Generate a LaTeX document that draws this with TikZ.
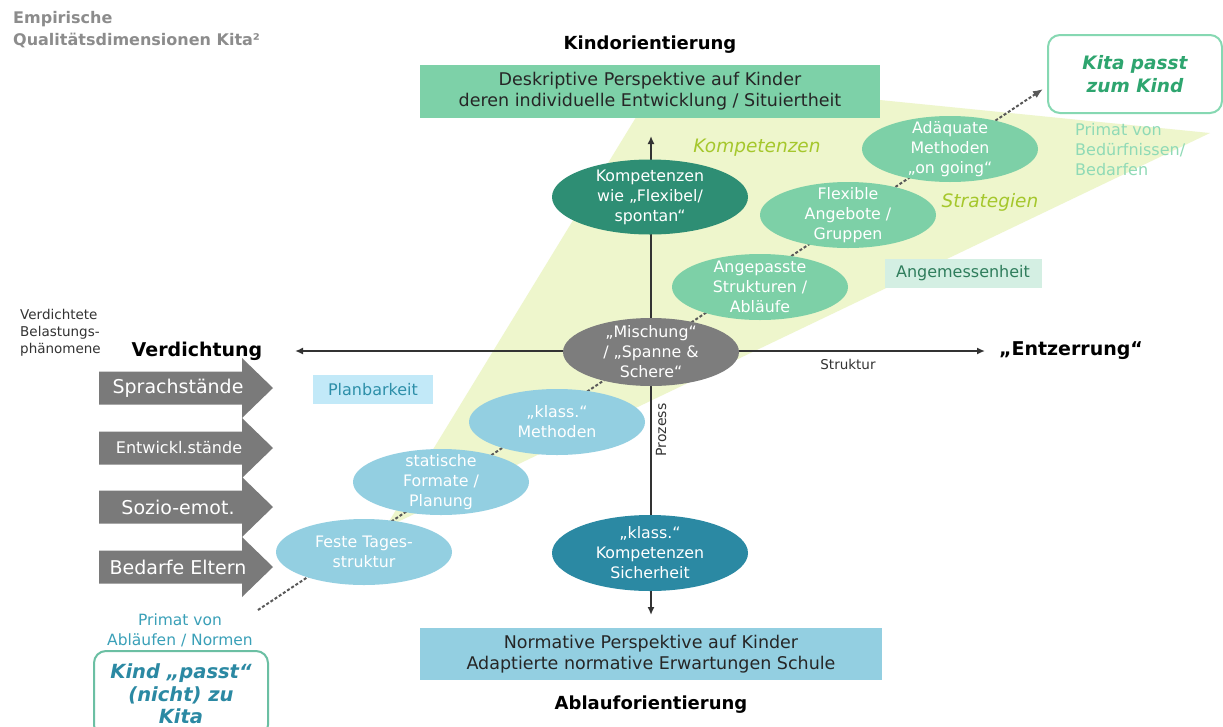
\documentclass[tikz,border=0pt]{standalone}
\usepackage{fontspec}
\setmainfont{DejaVu Sans}
\usetikzlibrary{arrows.meta,shapes.geometric}
\definecolor{trifill}{HTML}{EEF6CC}
\definecolor{boxgreen}{HTML}{7DD1A8}
\definecolor{ellgreen}{HTML}{7DD0A7}
\definecolor{darkgreen}{HTML}{2E8E74}
\definecolor{ellgray}{HTML}{7D7D7D}
\definecolor{ellblue}{HTML}{93CFE1}
\definecolor{darkblue}{HTML}{2B89A3}
\definecolor{boxblue}{HTML}{93CFE1}
\definecolor{lime}{HTML}{A5C72C}
\definecolor{planfill}{HTML}{C2E9F8}
\definecolor{plantext}{HTML}{2D8FA9}
\definecolor{angfill}{HTML}{D4EFE3}
\definecolor{angtext}{HTML}{2F7D5C}
\definecolor{kitatext}{HTML}{2EA56F}
\definecolor{kitaborder}{HTML}{86D8B2}
\definecolor{primgreen}{HTML}{8FDAB6}
\definecolor{primblue}{HTML}{3AA0B8}
\definecolor{kindborder}{HTML}{6BBFA3}
\definecolor{titlegray}{HTML}{8C8C8C}
\definecolor{axisc}{HTML}{333333}
\definecolor{arrowgray}{HTML}{7A7A7A}
\begin{document}
\begin{tikzpicture}[x=1pt,y=-1pt,
  ell/.style={ellipse, inner xsep=0pt, inner ysep=-20pt, align=center, text=white,
    font=\fontsize{15.8}{20}\selectfont, minimum width=176pt, minimum height=66pt},
  rectbox/.style={rectangle, inner sep=0pt, align=center, text=black!85,
    font=\fontsize{17.5}{21}\selectfont},
  heading/.style={font=\bfseries\fontsize{18}{22}\selectfont, text=black},
  axis/.style={draw=axisc, line width=1.8pt, -{Latex[length=8pt,width=7pt]}},
  dotline/.style={draw=black!65, line width=2pt, dash pattern=on 3pt off 2pt,
    -{Latex[length=10pt,width=8pt]}},
  grayarrowtext/.style={text=white, font=\fontsize{19}{22}\selectfont},
  smalltext/.style={font=\fontsize{13.5}{17}\selectfont, text=black!80}
]
\clip (0,0) rectangle (1223,726);
\fill[white] (0,0) rectangle (1223,726);

% light triangle
\fill[trifill] (385,528) -- (660,78) -- (1210,133) -- cycle;

% title
\node[anchor=north west, align=left, text=titlegray, inner sep=0pt,
  font=\bfseries\fontsize{16}{22}\selectfont] (title) at (13,11)
  {Empirische\\Qualitätsdimensionen Kita²};

% axes
\coordinate (o) at (651,351);
\coordinate (ytop) at (651,136);
\coordinate (ybot) at (651,615);
\coordinate (xl) at (295,351);
\coordinate (xr) at (985,351);
\draw[axis] (o) -- (ytop);
\draw[axis] (o) -- (ybot);
\draw[axis] (o) -- (xl);
\draw[axis] (o) -- (xr);

% dotted diagonal
\coordinate (dstart) at (258,610);
\coordinate (dend) at (1043,89);
\draw[dotline] (dstart) -- (dend);

% ellipses
\node[ell, fill=darkgreen, minimum width=196pt, minimum height=75pt] (komp) at (650,197)
  {Kompetenzen\\wie „Flexibel/\\spontan“};
\node[ell, fill=ellgreen] (adaq) at (950,149) {Adäquate\\Methoden\\„on going“};
\node[ell, fill=ellgreen] (flex) at (848,215) {Flexible\\Angebote /\\Gruppen};
\node[ell, fill=ellgreen] (ang) at (760,287) {Angepasste\\Strukturen /\\Abläufe};
\node[ell, fill=ellgray, minimum height=68pt] (mix) at (651,352) {„Mischung“\\/ „Spanne \&\\Schere“};
\node[ell, fill=ellblue] (klm) at (557,422) {„klass.“\\Methoden};
\node[ell, fill=ellblue] (stat) at (441,482) {statische\\Formate /\\Planung};
\node[ell, fill=ellblue] (feste) at (364,552) {Feste Tages-\\struktur};
\node[ell, fill=darkblue, minimum width=196pt, minimum height=76pt] (klk) at (650,553)
  {„klass.“\\Kompetenzen\\Sicherheit};

% top
\node[heading] (kindo) at (650,45) {Kindorientierung};
\node[rectbox, fill=boxgreen, minimum width=460pt, minimum height=53pt] (topbox) at (650,91.5)
  {Deskriptive Perspektive auf Kinder\\deren individuelle Entwicklung / Situiertheit};

% Kita box
\node[draw=kitaborder, line width=2pt, rounded corners=12pt, fill=white,
  minimum width=174pt, minimum height=78pt, align=center, text=kitatext,
  font=\bfseries\itshape\fontsize{18.5}{23}\selectfont] (kita) at (1135,74)
  {Kita passt\\zum Kind};
\node[anchor=north west, align=left, inner sep=0pt, text=primgreen,
  font=\fontsize{16}{20}\selectfont] (primg) at (1075,123)
  {Primat von\\Bedürfnissen/\\Bedarfen};

\node[text=lime, font=\itshape\fontsize{18.5}{22}\selectfont] (kompl) at (757,148) {Kompetenzen};
\node[text=lime, font=\itshape\fontsize{18.5}{22}\selectfont] (strat) at (990,202) {Strategien};

\node[fill=angfill, text=angtext, minimum width=157pt, minimum height=29pt, inner sep=0pt,
  font=\fontsize{16}{19}\selectfont] (angem) at (963,273.5) {Angemessenheit};
\node[fill=planfill, text=plantext, minimum width=120pt, minimum height=29pt, inner sep=0pt,
  font=\fontsize{16}{19}\selectfont] (planb) at (373,389.5) {Planbarkeit};

% axis labels
\node[heading, font=\bfseries\fontsize{19}{22}\selectfont] (verd) at (197,351) {Verdichtung};
\node[heading, font=\bfseries\fontsize{19}{22}\selectfont] (entz) at (1071,351) {„Entzerrung“};
\node[smalltext] (struk) at (848,364) {Struktur};
\node[smalltext, rotate=90, font=\fontsize{14}{17}\selectfont] (proz) at (661,430) {Prozess};
\node[smalltext, anchor=west, align=left, inner sep=0pt] (verdt) at (20,333)
  {Verdichtete\\Belastungs-\\phänomene};

% gray block arrows
\foreach \yy in {388,448,507,567}{
  \fill[arrowgray] (99,\yy-16.5) -- (242,\yy-16.5) -- (242,\yy-30) -- (273,\yy)
    -- (242,\yy+30) -- (242,\yy+16.5) -- (99,\yy+16.5) -- cycle;
}
\node[grayarrowtext] (a1) at (178,388) {Sprachstände};
\node[grayarrowtext, font=\fontsize{16}{19}\selectfont] (a2) at (179,448) {Entwickl.stände};
\node[grayarrowtext] (a3) at (178,507) {Sozio-emot.};
\node[grayarrowtext] (a4) at (178,567) {Bedarfe Eltern};

% bottom
\node[rectbox, fill=boxblue, minimum width=462pt, minimum height=52pt] (botbox) at (651,654)
  {Normative Perspektive auf Kinder\\Adaptierte normative Erwartungen Schule};
\node[heading] (ablauf) at (651,705) {Ablauforientierung};

\node[align=center, text=primblue, font=\fontsize{15.5}{20}\selectfont] (primb) at (180,630)
  {Primat von\\Abläufen / Normen};
\node[draw=kindborder, line width=2pt, rounded corners=12pt, fill=white,
  minimum width=174pt, minimum height=86pt, align=center, text=darkblue,
  font=\bfseries\itshape\fontsize{19.5}{22.5}\selectfont] (kind) at (181,694)
  {Kind „passt“\\(nicht) zu\\Kita};
\end{tikzpicture}
\end{document}
